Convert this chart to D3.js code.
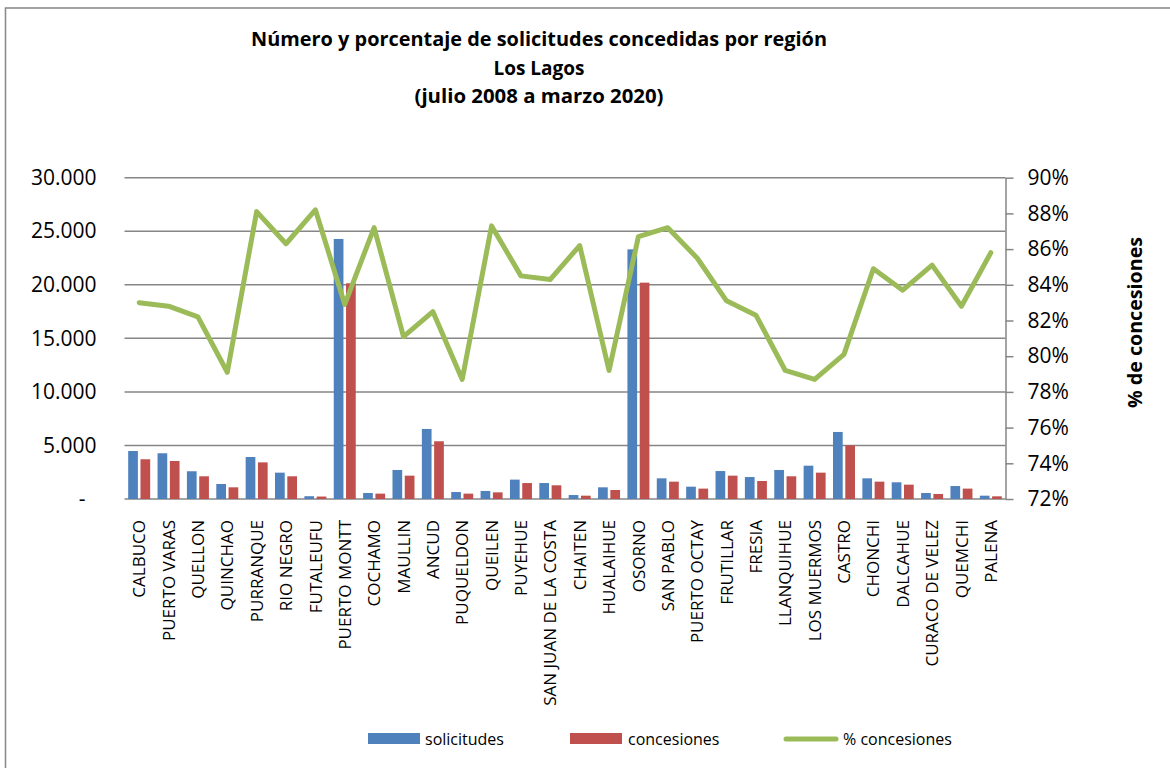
<!DOCTYPE html>
<html>
<head>
<meta charset="utf-8">
<script src="https://cdn.jsdelivr.net/npm/d3@7"></script>
<style>
  html, body { margin: 0; padding: 0; background: #fff; }
  svg { display: block; }
  text { font-family: "Open Sans", "DejaVu Sans", sans-serif; fill: #000; }
</style>
</head>
<body>
<svg id="chart" width="1170" height="768"></svg>
<script>
const categories = ["CALBUCO","PUERTO VARAS","QUELLON","QUINCHAO","PURRANQUE","RIO NEGRO","FUTALEUFU","PUERTO MONTT","COCHAMO","MAULLIN","ANCUD","PUQUELDON","QUEILEN","PUYEHUE","SAN JUAN DE LA COSTA","CHAITEN","HUALAIHUE","OSORNO","SAN PABLO","PUERTO OCTAY","FRUTILLAR","FRESIA","LLANQUIHUE","LOS MUERMOS","CASTRO","CHONCHI","DALCAHUE","CURACO DE VELEZ","QUEMCHI","PALENA"];
const solicitudes = [4480, 4270, 2590, 1400, 3920, 2460, 260, 24280, 560, 2710, 6540, 650, 750, 1810, 1490, 370, 1090, 23310, 1930, 1150, 2610, 2050, 2710, 3110, 6260, 1930, 1560, 560, 1210, 310];
const concesiones = [3710, 3550, 2120, 1090, 3420, 2120, 230, 20140, 500, 2180, 5390, 500, 620, 1490, 1280, 310, 840, 20200, 1620, 970, 2180, 1680, 2120, 2460, 5010, 1620, 1340, 470, 970, 250];
const pctConcesiones = [83.0, 82.8, 82.2, 79.1, 88.1, 86.3, 88.2, 82.9, 87.2, 81.1, 82.5, 78.7, 87.3, 84.5, 84.3, 86.2, 79.2, 86.7, 87.2, 85.5, 83.1, 82.3, 79.2, 78.7, 80.1, 84.9, 83.7, 85.1, 82.8, 85.8];
const leftTicks = [0, 5000, 10000, 15000, 20000, 25000, 30000];
const rightTicks = [72, 74, 76, 78, 80, 82, 84, 86, 88, 90];
const titleLines = ["Número y porcentaje de solicitudes concedidas por región", "Los Lagos", "(julio 2008 a marzo 2020)"];
const seriesNames = ["solicitudes", "concesiones", "% concesiones"];
const rightAxisTitle = "% de concesiones";

const colors = { sol: "#4F81BD", con: "#C0504D", pct: "#9BBB59", grid: "#868686" };

const svg = d3.select("#chart");
const plot = { left: 124.5, right: 1005.5, top: 177.7, bottom: 499 };

// outer border
svg.append("rect").attr("x", 5.5).attr("y", 8).attr("width", 1180).attr("height", 800)
  .attr("fill", "none").attr("stroke", "#8c8c8c").attr("stroke-width", 1.6);

// title
const titleW = [576, 91, 249];
const titleY = [46, 75, 103];
titleLines.forEach((t, i) => {
  svg.append("text").attr("x", 539).attr("y", titleY[i]).attr("text-anchor", "middle")
    .attr("font-size", 19).attr("font-weight", "bold")
    .attr("textLength", titleW[i]).attr("lengthAdjust", "spacingAndGlyphs")
    .text(t);
});

const x = d3.scaleBand().domain(categories).range([plot.left, plot.right]).paddingInner(0).paddingOuter(0);
const xSub = d3.scaleBand().domain(["sol", "con"]).range([0, x.bandwidth()]).paddingInner(0.211).paddingOuter(0.3);
const yL = d3.scaleLinear().domain([0, 30000]).range([plot.bottom, plot.top]);
const yR = d3.scaleLinear().domain([72, 90]).range([plot.bottom, plot.top]);

const loc = d3.formatLocale({ decimal: ",", thousands: ".", grouping: [3], currency: ["", ""] });
const fmt = loc.format(",.0f");

// gridlines
svg.append("g").selectAll("line").data(leftTicks).join("line")
  .attr("x1", plot.left).attr("x2", plot.right)
  .attr("y1", d => yL(d)).attr("y2", d => yL(d))
  .attr("stroke", colors.grid).attr("stroke-width", 1.5);

// left axis labels (no line, no ticks)
const gL = svg.append("g").attr("transform", `translate(${plot.left},0)`)
  .call(d3.axisLeft(yL).tickValues(leftTicks).tickSize(0).tickPadding(28)
    .tickFormat(d => d === 0 ? "-" : fmt(d)));
gL.select(".domain").remove();
gL.selectAll("text").attr("font-size", 21).attr("font-family", "Open Sans, sans-serif").attr("fill", "#000");
gL.selectAll(".tick").filter(d => d === 0).select("text").attr("x", -39);

// bars
const barG = svg.append("g");
barG.selectAll("rect.sol").data(categories).join("rect").attr("class", "sol")
  .attr("x", d => x(d) + xSub("sol")).attr("width", xSub.bandwidth())
  .attr("y", (d, i) => yL(solicitudes[i])).attr("height", (d, i) => yL(0) - yL(solicitudes[i]))
  .attr("fill", colors.sol);
barG.selectAll("rect.con").data(categories).join("rect").attr("class", "con")
  .attr("x", d => x(d) + xSub("con")).attr("width", xSub.bandwidth())
  .attr("y", (d, i) => yL(concesiones[i])).attr("height", (d, i) => yL(0) - yL(concesiones[i]))
  .attr("fill", colors.con);

// right axis
const gR = svg.append("g").attr("transform", `translate(${plot.right},0)`)
  .call(d3.axisRight(yR).tickValues(rightTicks).tickSize(8).tickSizeOuter(0).tickPadding(14)
    .tickFormat(d => d + "%"));
gR.select(".domain").attr("stroke", colors.grid).attr("stroke-width", 1.5);
gR.selectAll(".tick line").attr("stroke", colors.grid).attr("stroke-width", 1.5);
gR.selectAll("text").attr("font-size", 21).attr("font-family", "Open Sans, sans-serif").attr("fill", "#000");

// right axis title
svg.append("text").attr("transform", "translate(1142,322.5) rotate(-90)")
  .attr("text-anchor", "middle").attr("font-size", 19).attr("font-weight", "bold")
  .attr("textLength", 171).attr("lengthAdjust", "spacingAndGlyphs")
  .text(rightAxisTitle);

// line
const line = d3.line().x((d, i) => x(categories[i]) + x.bandwidth() / 2).y(d => yR(d));
svg.append("path").datum(pctConcesiones).attr("d", line)
  .attr("fill", "none").attr("stroke", colors.pct).attr("stroke-width", 5)
  .attr("stroke-linejoin", "round").attr("stroke-linecap", "round");

// x labels
const gX = svg.append("g").attr("transform", `translate(0,${plot.bottom})`)
  .call(d3.axisBottom(x).tickSize(0).tickPadding(0));
gX.select(".domain").remove();
gX.selectAll("text")
  .attr("font-size", 17).attr("font-family", "Open Sans, sans-serif").attr("fill", "#000")
  .attr("text-anchor", "end").attr("transform", "rotate(-90)")
  .attr("x", -21).attr("y", 0).attr("dy", "0.36em");

// legend
const lg = svg.append("g");
lg.append("rect").attr("x", 368).attr("y", 733).attr("width", 52).attr("height", 11).attr("fill", colors.sol);
lg.append("text").attr("x", 425).attr("y", 745).attr("font-size", 16).text(seriesNames[0]);
lg.append("rect").attr("x", 570).attr("y", 733).attr("width", 52).attr("height", 11).attr("fill", colors.con);
lg.append("text").attr("x", 628).attr("y", 745).attr("font-size", 16).text(seriesNames[1]);
lg.append("line").attr("x1", 786).attr("x2", 836).attr("y1", 739).attr("y2", 739)
  .attr("stroke", colors.pct).attr("stroke-width", 5).attr("stroke-linecap", "round");
lg.append("text").attr("x", 843).attr("y", 745).attr("font-size", 16).text(seriesNames[2]);
</script>
</body>
</html>
